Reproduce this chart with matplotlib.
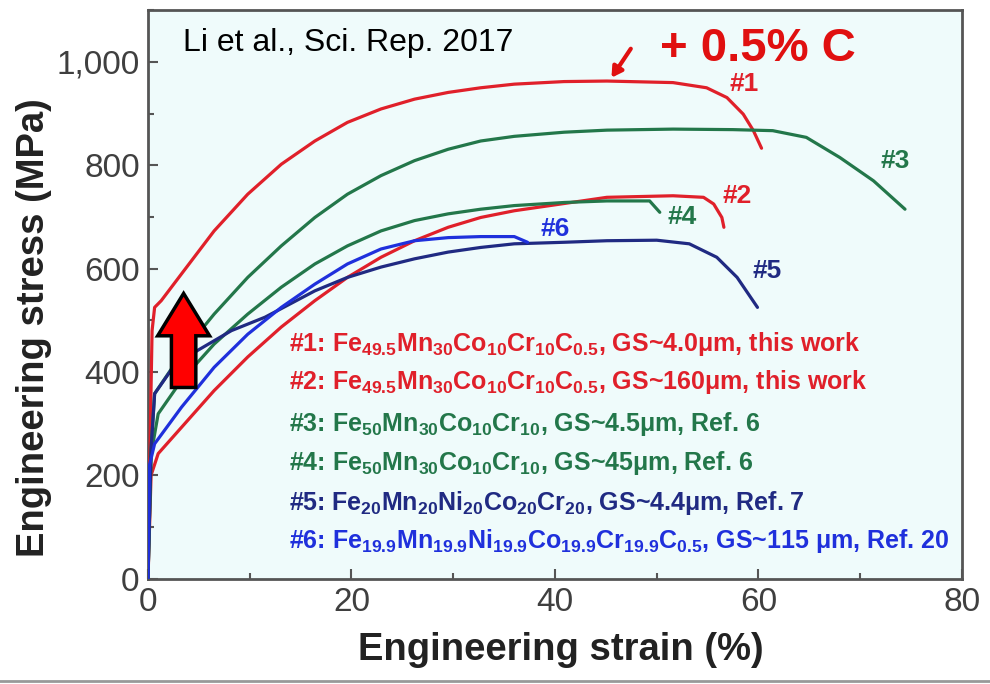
import matplotlib
matplotlib.use('Agg')
import matplotlib.pyplot as plt
import matplotlib.patches as mpatches
from matplotlib.lines import Line2D
from matplotlib.ticker import MultipleLocator, FuncFormatter

plt.rcParams['font.family'] = ['Liberation Sans', 'DejaVu Sans']
plt.rcParams['mathtext.fontset'] = 'custom'
plt.rcParams['mathtext.rm'] = 'Liberation Sans:bold'
plt.rcParams['mathtext.default'] = 'rm'

# curves: strain (%) / stress (MPa)
x1 = [0, 0.2, 0.4, 0.65, 1.3, 3.3, 6.5, 9.8, 13.1, 16.4, 19.6, 22.9, 26.2, 29.5, 32.7, 36.0,
      40.9, 45.1, 51.6, 54.9, 56.9, 58.5, 59.5, 60.3]
y1 = [0, 260, 480, 525, 538, 590, 673, 744, 802, 847, 883, 909, 928, 941, 950, 957,
      962, 963, 960, 950, 931, 899, 867, 833]

x2 = [0, 0.3, 1.0, 3.3, 6.5, 9.8, 13.1, 16.4, 19.6, 22.9, 26.2, 29.5, 32.7, 36.0, 40.9,
      45.1, 51.6, 54.6, 55.6, 56.4, 56.6]
y2 = [0, 200, 242, 293, 364, 429, 487, 538, 583, 622, 654, 680, 699, 712, 726,
      738, 741, 738, 725, 699, 680]

x3 = [0, 0.3, 0.65, 3.3, 6.5, 9.8, 13.1, 16.4, 19.6, 22.9, 26.2, 29.5, 32.7, 36.0, 40.9,
      45.1, 51.6, 57.5, 61.4, 64.7, 68.0, 71.3, 74.4]
y3 = [0, 250, 358, 435, 512, 583, 644, 699, 744, 780, 809, 831, 847, 856, 864,
      868, 870, 869, 867, 854, 815, 770, 715]

x4 = [0, 0.3, 1.0, 3.3, 6.5, 9.8, 13.1, 16.4, 19.6, 22.9, 26.2, 29.5, 32.7, 36.0, 40.9,
      45.1, 49.3, 50.3]
y4 = [0, 240, 319, 384, 454, 512, 564, 609, 644, 673, 693, 706, 715, 722, 728,
      731, 731, 709]

x5 = [0, 0.3, 0.65, 2.5, 4.9, 8.2, 11.5, 16.4, 19.6, 22.9, 26.2, 29.5, 32.7, 36.0, 40.9,
      45.1, 50.0, 53.2, 55.9, 57.9, 59.9]
y5 = [0, 250, 358, 410, 442, 480, 506, 557, 583, 603, 619, 632, 641, 648, 651,
      654, 655, 648, 622, 583, 525]

x6 = [0, 0.15, 0.65, 3.3, 6.5, 9.8, 13.1, 16.4, 19.6, 22.9, 26.2, 29.5, 32.7, 36.0, 37.3]
y6 = [0, 220, 261, 332, 409, 473, 525, 570, 609, 638, 654, 660, 662, 662, 651]

red = '#e0202a'
green = '#23774a'
navy = '#202a82'
blue = '#1f30dc'

curves = [(x1, y1, red), (x2, y2, red), (x3, y3, green),
          (x4, y4, green), (x5, y5, navy), (x6, y6, blue)]

tags = ['#1', '#2', '#3', '#4', '#5', '#6']
tag_x = [58.6, 57.9, 73.4, 52.5, 60.8, 40.0]
tag_y = [957, 741, 809, 699, 596, 677]
tag_c = [red, red, green, green, navy, blue]

legend_lines = [
    r'#1: Fe$_{49.5}$Mn$_{30}$Co$_{10}$Cr$_{10}$C$_{0.5}$, GS~4.0μm, this work',
    r'#2: Fe$_{49.5}$Mn$_{30}$Co$_{10}$Cr$_{10}$C$_{0.5}$, GS~160μm, this work',
    r'#3: Fe$_{50}$Mn$_{30}$Co$_{10}$Cr$_{10}$, GS~4.5μm, Ref. 6',
    r'#4: Fe$_{50}$Mn$_{30}$Co$_{10}$Cr$_{10}$, GS~45μm, Ref. 6',
    r'#5: Fe$_{20}$Mn$_{20}$Ni$_{20}$Co$_{20}$Cr$_{20}$, GS~4.4μm, Ref. 7',
    r'#6: Fe$_{19.9}$Mn$_{19.9}$Ni$_{19.9}$Co$_{19.9}$Cr$_{19.9}$C$_{0.5}$, GS~115 μm, Ref. 20',
]
legend_y = [455, 381, 300, 223, 146, 72]
legend_c = [red, red, green, green, navy, blue]

fig = plt.figure(figsize=(9.9, 6.84), dpi=100)
ax = fig.add_axes([0.1495, 0.154, 0.8222, 0.831])
ax.set_facecolor('#effbfb')

for xs, ys, c in curves:
    ax.plot(xs, ys, color=c, lw=2.3, solid_capstyle='round', solid_joinstyle='round', zorder=3)

for t, tx, ty, c in zip(tags, tag_x, tag_y, tag_c):
    ax.text(tx, ty, t, color=c, fontsize=19, fontweight='bold', ha='center', va='center')

for s, ly, c in zip(legend_lines, legend_y, legend_c):
    ax.text(13.9, ly, s, color=c, fontsize=18, fontweight='bold', ha='left', va='center')

ax.text(3.4, 1037, 'Li et al., Sci. Rep. 2017', fontsize=23, color='black', ha='left', va='center')
ax.text(50.3, 1025, '+ 0.5% C', fontsize=34, fontweight='bold', color='#e01010', ha='left', va='center')
ax.annotate('', xy=(45.4, 965), xytext=(47.6, 1030),
            arrowprops=dict(arrowstyle='-|>,head_width=0.35,head_length=0.6', color='#e01010', lw=3))

arr = mpatches.FancyArrow(3.5, 370, 0, 182, width=2.4, head_width=5.1, head_length=82,
                          length_includes_head=True, facecolor='#ff0000', edgecolor='black',
                          lw=2.5, zorder=5)
ax.add_patch(arr)

ax.set_xlim(0, 80)
ax.set_ylim(0, 1100)
ax.xaxis.set_major_locator(MultipleLocator(20))
ax.xaxis.set_minor_locator(MultipleLocator(10))
ax.yaxis.set_major_locator(MultipleLocator(200))
ax.yaxis.set_minor_locator(MultipleLocator(100))
ax.yaxis.set_major_formatter(FuncFormatter(lambda v, p: f'{int(v):,}'))
ax.tick_params(which='both', direction='in', top=False, right=False, color='#555555', width=1.5)
ax.tick_params(which='major', length=7, labelsize=24, labelcolor='#3f3f3f', pad=6)
ax.tick_params(which='minor', length=4)
for sp in ax.spines.values():
    sp.set_color('#555555')
    sp.set_linewidth(2)

ax.set_xlabel('Engineering strain (%)', fontsize=27.5, fontweight='bold', color='#222222')
ax.set_ylabel('Engineering stress (MPa)', fontsize=27.5, fontweight='bold', color='#222222')
ax.xaxis.set_label_coords(0.507, -0.094)
ax.yaxis.set_label_coords(-0.118, 0.442)

fig.add_artist(Line2D([0, 1], [0.005, 0.005], color='#999999', lw=2))

fig.savefig('out.png', dpi=100)
